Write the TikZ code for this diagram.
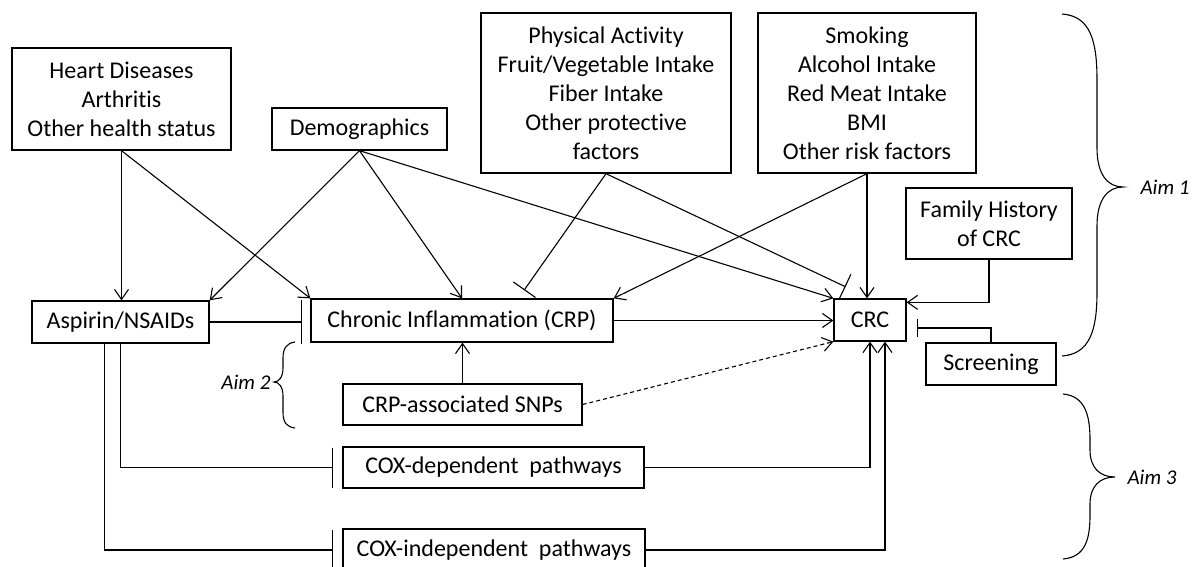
\documentclass[tikz,border=0pt]{standalone}
\usepackage{fontspec}
\setmainfont{Carlito}[Ligatures=NoCommon]
\usetikzlibrary{arrows.meta,calc}
\begin{document}
\begin{tikzpicture}[x=1pt,y=-1pt,line width=1.1pt,
  box/.style={draw,line width=1.3pt,inner sep=0pt,align=center,font=\fontsize{24}{29}\selectfont},
  arr/.style={-{Straight Barb[length=10pt,width=14pt]}},
  tbar/.style={-{Bar[width=#1]}},
  aim/.style={inner sep=0pt,font=\fontsize{21}{24}\selectfont\itshape}]
\useasboundingbox (0,0) rectangle (1193,567);
% nodes
\node[box,minimum width=219pt,minimum height=102pt] (heart) at (121.5,99) {Heart Diseases\\Arthritis\\Other health status};
\node[box,minimum width=175pt,minimum height=42pt] (demo) at (359.5,129) {Demographics};
\node[box,minimum width=250pt,minimum height=160pt] (phys) at (606,93) {Physical Activity\\Fruit/Vegetable Intake\\Fiber Intake\\Other protective\\factors};
\node[box,minimum width=218pt,minimum height=160pt] (smoke) at (867,93) {Smoking\\Alcohol Intake\\Red Meat Intake\\BMI\\Other risk factors};
\node[box,minimum width=166pt,minimum height=71pt] (fam) at (989,223.5) {Family History\\of CRC};
\node[box,minimum width=177pt,minimum height=42pt] (asp) at (120.5,322) {Aspirin/NSAIDs};
\node[box,minimum width=302pt,minimum height=43pt] (chronic) at (462,320.5) {Chronic Inflammation (CRP)};
\node[box,minimum width=72pt,minimum height=42pt] (crc) at (870,320) {CRC};
\node[box,minimum width=130pt,minimum height=42pt] (screen) at (991,364) {Screening};
\node[box,minimum width=239pt,minimum height=41pt] (snps) at (462.5,404.5) {CRP-associated SNPs};
\node[box,minimum width=301pt,minimum height=41pt] (coxd) at (493.5,467.5) {COX-dependent\ \ pathways};
\node[box,minimum width=302pt,minimum height=42pt] (coxi) at (494,550) {COX-independent\ \ pathways};
% connectors
\draw[arr] (heart.south) -- (heart.south |- asp.north);
\draw[arr] (heart.south) -- (chronic.north west);
\draw[arr] (demo.south) -- (asp.north east);
\draw[arr] (demo.south) -- (chronic.north);
\draw[arr] (demo.south) -- (crc.north west);
\draw[tbar=27pt,shorten >=10pt] (phys.south) -- ($(chronic.north west)+(208,0)$);
\draw[tbar=27pt,shorten >=27pt] (phys.south) -- (crc.north);
\draw[arr] (smoke.south) -- (chronic.north east);
\draw[arr] (smoke.south) -- (smoke.south |- crc.north);
\draw[arr] (fam.south) |- ($(crc.north east)+(0,4)$);
\draw[tbar=18pt,shorten >=10pt] (screen.north) |- ($(crc.east)+(0,8)$);
\draw[tbar=44pt,shorten >=8pt] (asp.east) -- (asp.east -| chronic.west);
\draw[arr] (chronic.east) -- (chronic.east -| crc.west);
\draw[arr] (snps.north) -- (snps.north |- chronic.south);
\draw[arr,dash pattern=on 4pt off 3pt] (snps.east) -- (crc.south west);
\draw[tbar=40pt,shorten >=9pt] (asp.south) |- (coxd.west);
\draw[tbar=40pt,shorten >=9pt] ($(asp.south)+(-16,0)$) |- (coxi.west);
\draw[arr] (coxd.east) -| (crc.south);
\draw[arr] (coxi.east) -| ($(crc.south)+(15,0)$);
% braces
\draw (1062,14) .. controls (1090,16) and (1097,40) .. (1097,80) -- (1097,148)
  .. controls (1097,175) and (1108,187) .. (1123,187)
  .. controls (1108,187) and (1097,199) .. (1097,226) -- (1097,292)
  .. controls (1097,330) and (1090,354) .. (1062,356);
\draw (1063,394) .. controls (1085,396) and (1090,415) .. (1090,440) -- (1090,450)
  .. controls (1090,468) and (1100,477) .. (1115,477)
  .. controls (1100,477) and (1090,486) .. (1090,504) -- (1090,515)
  .. controls (1090,540) and (1085,557) .. (1063,559);
\draw (295,342) .. controls (287,343) and (283,348) .. (283,358) -- (283,368)
  .. controls (283,377) and (279,382) .. (274,382)
  .. controls (279,382) and (283,387) .. (283,396) -- (283,412)
  .. controls (283,423) and (287,427) .. (295,428);
\node[aim,anchor=west] (aim1) at (1140,187) {Aim 1};
\node[aim,anchor=east] (aim2) at (271,382) {Aim 2};
\node[aim,anchor=west] (aim3) at (1127,477) {Aim 3};
\end{tikzpicture}
\end{document}
